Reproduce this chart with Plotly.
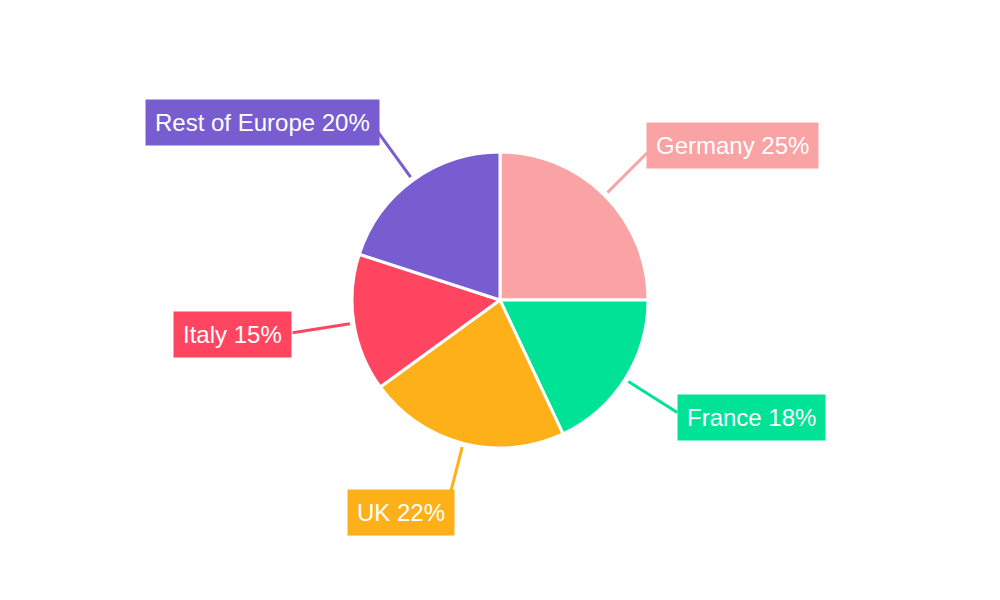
import numpy as np
import plotly.graph_objects as go

# market share by country
countries = ['Germany', 'France', 'UK', 'Italy', 'Rest of Europe']
shares = [25, 18, 22, 15, 20]
colors = ['#F9A3A4', '#00E396', '#FEB019', '#FF4560', '#775DD0']

W, H = 1000, 600
R = 148          # pie radius in px
# page body has an 8px margin, so pull the centre back by that much
CX, CY = 500 - 8, 300 - 8

fig = go.Figure(go.Pie(
    labels=countries,
    values=shares,
    sort=False,
    direction='clockwise',
    rotation=0,
    textinfo='none',
    hoverinfo='label+percent',
    marker=dict(colors=colors, line=dict(color='white', width=3)),
    showlegend=False,
))

# paper coords: y spans the pie's vertical domain
top, bot = CY - R, H - (CY + R)
lm = CX - R
rm = W - (CX + R)
def to_paper(px, py):
    return (px - lm) / (W - lm - rm), (H - bot - py) / (H - top - bot)

# leader lines + boxed labels, placed from each slice's mid angle
total = sum(shares)
cum = np.cumsum([0] + shares[:-1])
shapes, annots = [], []
for name, v, c, start in zip(countries, shares, colors, cum):
    ang = 2 * np.pi * (start + v / 2) / total
    s, co = np.sin(ang), np.cos(ang)
    x0, y0 = to_paper(CX + 152 * s, CY - 152 * co)
    x1, y1 = to_paper(CX + 210 * s, CY - 210 * co)
    shapes.append(dict(type='line', xref='paper', yref='paper',
                       x0=x0, y0=y0, x1=x1, y1=y1,
                       line=dict(color=c, width=3), layer='above'))
    left = s > 0
    nudge = 10 - 11 * abs(s)
    annots.append(dict(
        x=x1, y=y1, xref='paper', yref='paper',
        text=f'{name} {v}%', showarrow=False,
        xanchor='left' if left else 'right', yanchor='middle',
        xshift=-nudge if left else nudge, yshift=co * 9,
        bgcolor=c, borderpad=9,
        font=dict(family='Liberation Sans, Arial, sans-serif', size=24, color='white'),
    ))

fig.update_layout(
    width=W, height=H,
    margin=dict(l=lm, r=rm, t=top, b=bot),
    paper_bgcolor='white',
    plot_bgcolor='white',
    shapes=shapes,
    annotations=annots,
)

fig.write_html('out.html')
